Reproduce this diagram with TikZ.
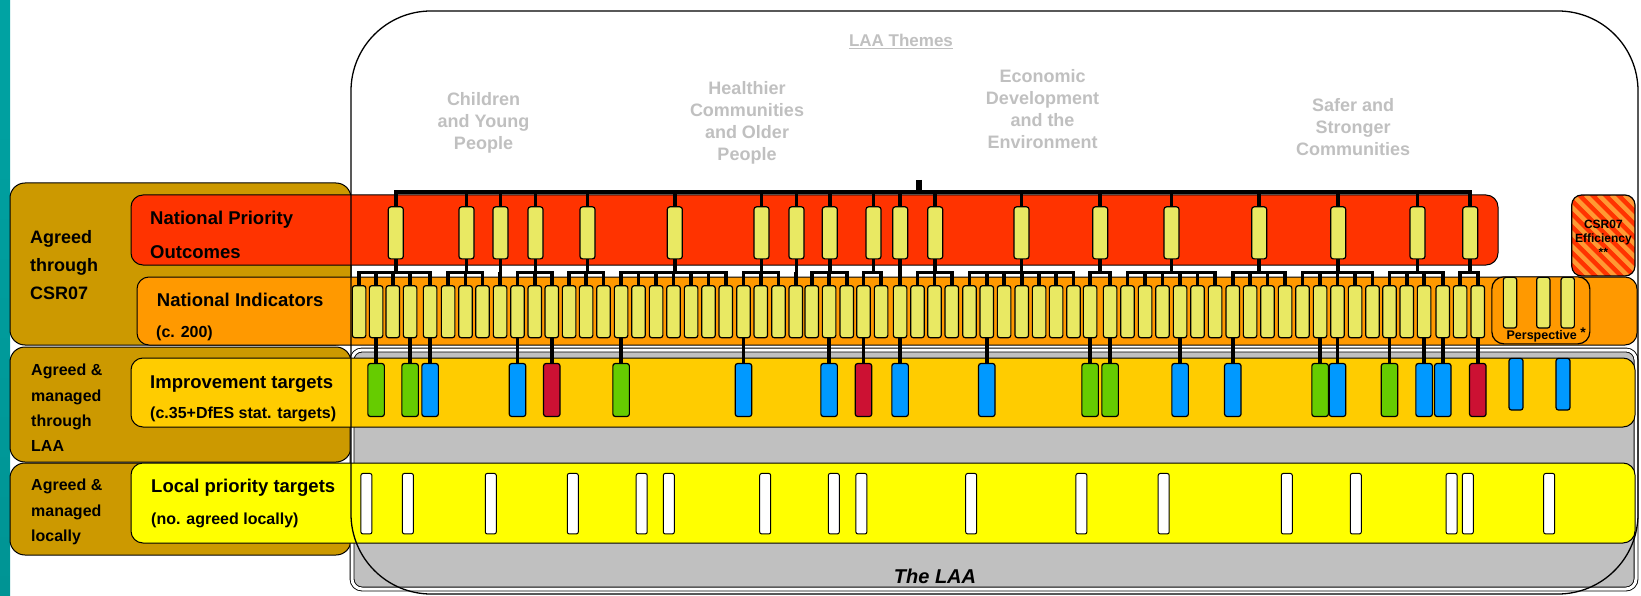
\documentclass[tikz,border=0pt]{standalone}
\usepackage{fontspec}
\setmainfont{Liberation Sans}
\usetikzlibrary{positioning,calc}

\definecolor{stripteal}{HTML}{00A3A3}
\definecolor{stripdark}{HTML}{009494}
\definecolor{gold}{HTML}{CC9900}
\definecolor{npored}{HTML}{FF3300}
\definecolor{niorange}{HTML}{FF9900}
\definecolor{itgold}{HTML}{FFCC00}
\definecolor{lpyellow}{HTML}{FFFF00}
\definecolor{laagray}{HTML}{C0C0C0}
\definecolor{boxyellow}{HTML}{E9E963}
\definecolor{itgreen}{HTML}{66CC00}
\definecolor{itblue}{HTML}{0099FF}
\definecolor{itred}{HTML}{CC1133}
\definecolor{themegray}{HTML}{C0C0C0}
\definecolor{stripeorange}{HTML}{FF9933}

\begin{document}
\begin{tikzpicture}[x=1pt,y=-1pt,
    npobox/.style={rectangle, draw, line width=1.2pt, fill=boxyellow,
        rounded corners=2.5pt, inner sep=0pt, minimum width=15pt, minimum height=52pt},
    nibox/.style={npobox, minimum width=13.5pt, minimum height=52pt},
    itbox/.style={npobox, minimum width=16.5pt, minimum height=53pt},
    lpbox/.style={npobox, fill=white, line width=1pt, rounded corners=2pt,
        minimum width=11pt, minimum height=60.5pt},
    conn/.style={line width=3.6pt},
    band/.style={draw, line width=1pt},
    lbl/.style={font=\bfseries\fontsize{18.5}{22}\selectfont, inner sep=0pt, anchor=base west},
    sublbl/.style={font=\bfseries\fontsize{16}{19}\selectfont, inner sep=0pt, anchor=base west},
    side/.style={font=\bfseries\fontsize{16}{25.3}\selectfont, align=left, inner sep=0pt, anchor=west},
    theme/.style={font=\bfseries\fontsize{18}{22}\selectfont, text=themegray, align=center, inner sep=0pt}]

    \useasboundingbox (0,0) rectangle (1641,596);
    \fill[top color=stripteal, bottom color=stripdark] (0,0) rectangle (10,596);
    \fill[white, rounded corners=80pt] (351,11) rectangle (1638,594);

    % left boxes
    \draw[band, fill=gold, rounded corners=15pt] (10,183) rectangle (351,345);
    \draw[band, fill=gold, rounded corners=15pt] (10,347) rectangle (351,462);
    \draw[band, fill=gold, rounded corners=15pt] (10,463) rectangle (351,555);

    % LAA panel and bands
    \draw[fill=laagray, line width=0.9pt, double=white, double distance=3pt,
        rounded corners=10pt] (352,350) rectangle (1636,589);
    \draw[band, fill=npored, rounded corners=12pt] (131,195) rectangle (1498,265);
    \draw[band, fill=niorange, rounded corners=12pt] (137,277) rectangle (1637,345);
    \draw[band, fill=itgold, rounded corners=12pt] (131,358) rectangle (1635,427);
    \draw[band, fill=lpyellow, rounded corners=12pt] (131,463) rectangle (1635,543);

    % outcomes and indicators
    \foreach \x [count=\i] in {395.8,466.5,500.5,535.5,587.5,674.8,761.5,796.5,829.8,
        873.5,900.2,935.2,1021.5,1100.2,1171.5,1259.2,1338.2,1417.5,1470.2}
        \node[npobox] (npo\i) at (\x,232.85) {};
    \foreach \x [count=\i] in {359.1,376.1,392.8,410.1,430.1,448.1,465.5,482.5,500.1,
        517.5,534.8,551.8,569.1,586.1,603.5,621.1,638.5,656.1,673.5,691.1,708.5,725.8,
        743.5,760.8,778.5,795.8,811.8,829.1,846.8,863.5,881.1,900.1,917.5,934.5,951.8,
        969.5,986.8,1004.1,1021.8,1039.1,1056.1,1073.5,1090.1,1110.1,1127.5,1145.1,
        1162.5,1180.1,1197.5,1215.1,1232.8,1250.1,1267.5,1285.1,1302.5,1320.1,1337.5,
        1355.1,1372.5,1389.5,1406.8,1424.1,1442.8,1460.1,1477.8}
        \node[nibox] (ni\i) at (\x,311.7) {};

    % tree of connectors
    \coordinate (top) at (919,180);
    \coordinate (tb) at (919,192.3);
    \coordinate (gb) at (919,272.3);
    \draw[line width=5.5pt] (top) -- (tb);
    \draw[conn] (npo1.north) -- (npo1.north |- tb) -- (npo19.north |- tb) -- (npo19.north);
    \foreach \i in {2,...,18}
        \draw[conn] (npo\i.north) -- (npo\i.north |- tb);
    \foreach \p/\a/\b in {1/1/5,2/6/8,3/9/9,4/10/12,5/13/15,6/16/22,7/23/25,8/26/26,
        9/27/29,10/30/31,11/32/32,12/33/35,13/36/42,14/43/44,15/45/50,16/51/54,
        17/55/59,18/60/63,19/64/65} {
        \draw[conn] (npo\p.south) -- (npo\p.south |- gb);
        \draw[conn] (ni\a.north) -- (ni\a.north |- gb) -- (ni\b.north |- gb) -- (ni\b.north);
        \foreach \k in {\a,...,\b}
            \draw[conn] (ni\k.north) -- (ni\k.north |- gb);
    }

    % improvement targets
    \coordinate (itrow) at (0,390);
    \foreach \k/\col [count=\j] in {2/itgreen,4/itgreen,5/itblue,10/itblue,12/itred,
        16/itgreen,23/itblue,28/itblue,30/itred,32/itblue,37/itblue,43/itgreen,
        44/itgreen,48/itblue,51/itblue,56/itgreen,57/itblue,60/itgreen,62/itblue,
        63/itblue,65/itred} {
        \node[itbox, fill=\col] (it\j) at (ni\k |- itrow) {};
        \draw[conn] (ni\k.south) -- (it\j.north);
    }
    \node[itbox, fill=itblue, minimum width=14pt, minimum height=51.7pt] (it22) at (1516,384.2) {};
    \node[itbox, fill=itblue, minimum width=14pt, minimum height=51.7pt] (it23) at (1563,384.2) {};

    % local priority targets
    \foreach \x [count=\i] in {366.4,407.9,490.8,572.8,641.7,668.8,765.2,833.8,861.4,
        971.2,1081.4,1163.7,1286.8,1355.8,1451.6,1467.8,1549.2}
        \node[lpbox] (lp\i) at (\x,503.7) {};

    % perspective
    \node[draw, line width=1.2pt, fill=niorange, rounded corners=12pt, inner sep=0pt,
        minimum width=98pt, minimum height=67pt] (persp) at (1540.85,310.35) {};
    \foreach \x [count=\i] in {1510,1543.3,1567.7}
        \node[nibox, minimum width=13.3pt, minimum height=50.7pt] (pb\i) at (\x,302.7) {};
    \node[font=\bfseries\fontsize{12.5}{15}\selectfont, inner sep=0pt, anchor=base]
        (persplbl) at (1541.7,339.5) {Perspective};
    \node[font=\bfseries\fontsize{14}{16}\selectfont, inner sep=0pt, anchor=base]
        (perspstar) at (1583,337) {*};

    % CSR07 efficiency
    \begin{scope}
        \clip[rounded corners=10pt] (1571.7,195) rectangle (1635,276);
        \fill[npored] (1571.7,195) rectangle (1635,276);
        \foreach \s in {-90,-77,...,60}
            \draw[line width=4.5pt, stripeorange] (1571.7+\s,195) -- ++(90,90);
    \end{scope}
    \draw[line width=1.2pt, rounded corners=10pt] (1571.7,195) rectangle (1635,276);
    \node[font=\bfseries\fontsize{12}{14.3}\selectfont, align=center, inner sep=0pt]
        (csreff) at (1603.35,238.3) {CSR07\\Efficiency\\**};

    % LAA outline
    \draw[line width=1.3pt, rounded corners=80pt] (351,11) rectangle (1638,594);

    % themes
    \node[theme, font=\bfseries\fontsize{17}{20}\selectfont, anchor=base] (themes) at (901,47) {\underline{LAA Themes}};
    \node[theme] (cyp) at (483.5,123.2) {Children\\and Young\\People};
    \node[theme] (hcop) at (747,123.2) {Healthier\\Communities\\and Older\\People};
    \node[theme] (ede) at (1042.5,109) {Economic\\Development\\and the\\Environment};
    \node[theme] (ssc) at (1353,127) {Safer and\\Stronger\\Communities};

    % labels
    \node[side, font=\bfseries\fontsize{18}{28.3}\selectfont] (csr) at (30,265) {Agreed\\through\\CSR07};
    \node[side] (laa) at (31,408) {Agreed \&\\managed\\through\\LAA};
    \node[side, font=\bfseries\fontsize{16}{25.5}\selectfont] (loc) at (31,512.2) {Agreed \&\\managed\\locally};
    \node[lbl, anchor=west, align=left, font=\bfseries\fontsize{18.5}{33.4}\selectfont]
        (npolbl) at (150,235) {National Priority\\Outcomes};
    \node[lbl] (nilbl) at (156.7,306.7) {National Indicators};
    \node[sublbl] (nisub) at (156,337.5) {(c. 200)};
    \node[lbl] (itlbl) at (150,388.4) {Improvement targets};
    \node[sublbl] (itsub) at (150,418.5) {(c.35+DfES stat. targets)};
    \node[lbl] (lplbl) at (151,492.4) {Local priority targets};
    \node[sublbl] (lpsub) at (151,524) {(no. agreed locally)};
    \node[font=\bfseries\itshape\fontsize{20}{24}\selectfont, inner sep=0pt, anchor=base]
        (laatitle) at (935,583) {The LAA};
\end{tikzpicture}
\end{document}
